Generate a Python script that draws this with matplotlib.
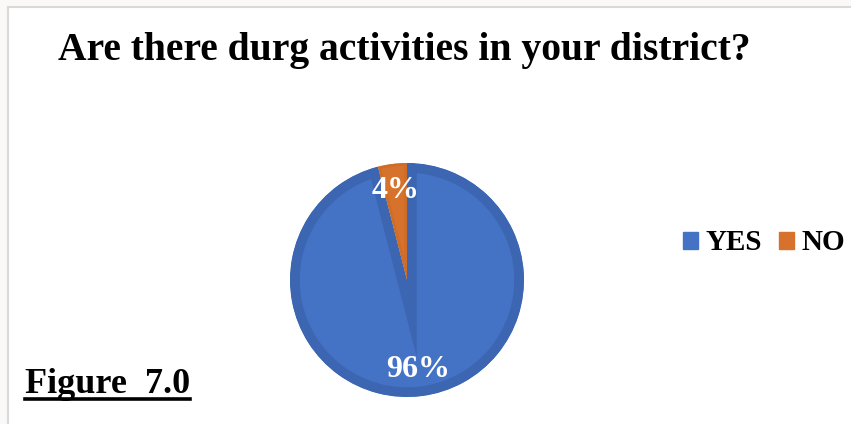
import matplotlib.pyplot as plt
from matplotlib.patches import Rectangle, Patch
from matplotlib.lines import Line2D

# survey answers
answers = ['YES', 'NO']
shares = [96, 4]
title = 'Are there durg activities in your district?'
caption = 'Figure  7.0'

face_colors = ['#4472C4', '#D6722C']
edge_colors = ['#3C66B2', '#CF6C28']

W, H = 851, 424
plt.rcParams['font.family'] = ['Liberation Serif', 'DejaVu Serif']
plt.rcParams['font.weight'] = 'bold'

fig = plt.figure(figsize=(W / 100, H / 100), dpi=100)
fig.patch.set_facecolor('#FAF9F7')

# white chart area with a light grey frame on the top/left
frame = Rectangle((8 / W, -0.05), 1.1, 1 - 7 / H + 0.05, transform=fig.transFigure,
                  facecolor='white', edgecolor='#D9D9D9', linewidth=1.5, zorder=-5)
fig.patches.append(frame)

# pie axes, centre (407, 280) px, radius 117 px
cx, cy, r = 407, H - 280, 117
ax = fig.add_axes([(cx - r) / W, (cy - r) / H, 2 * r / W, 2 * r / H], zorder=2)
ax.set_facecolor('none')
wedges, _, pcts = ax.pie(shares, colors=face_colors, startangle=90, counterclock=False,
                         autopct='%1.0f%%', pctdistance=0.77, radius=1.0,
                         wedgeprops=dict(linewidth=0))
ax.set_xlim(-1, 1)
ax.set_ylim(-1, 1)
ax.set_aspect('equal')
ax.axis('off')

# darker inner stroke on each wedge (stroke clipped to the wedge itself)
for w, ec, lw in zip(wedges, edge_colors, [14, 4]):
    w.set_edgecolor(ec)
    w.set_linewidth(lw)
    w.set_clip_on(True)
    w.set_clip_path(w.get_path(), w.get_transform())

for t in pcts:
    t.set_color('white')
    t.set_fontsize(23)
    t.set_fontweight('bold')

fig.text(404 / W, 1 - 60 / H, title, ha='center', va='baseline',
         fontsize=28.5, fontweight='bold', color='black')

handles = [Patch(facecolor=c, edgecolor=c) for c in face_colors]
fig.legend(handles, answers, loc='center', bbox_to_anchor=(764 / W, 1 - 243 / H),
           ncol=2, frameon=False, prop=dict(weight='bold', size=21),
           handlelength=0.52, handleheight=0.52, handletextpad=0.25, columnspacing=0.6)

cap = fig.text(25 / W, 1 - 393 / H, caption, ha='left', va='baseline',
               fontsize=26, fontweight='bold', color='black')

# underline the caption
fig.canvas.draw()
bb = cap.get_window_extent()
uy = 1 - 399 / H
fig.lines.append(Line2D([bb.x0 / W, bb.x1 / W], [uy, uy], transform=fig.transFigure,
                        color='black', linewidth=2.6))

fig.savefig('out.png', dpi=100, facecolor=fig.get_facecolor())
